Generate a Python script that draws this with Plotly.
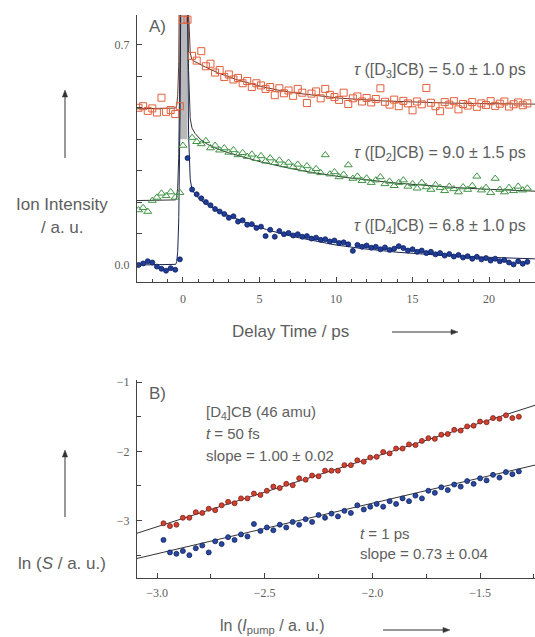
import numpy as np
import plotly.graph_objects as go

# ---------------- Panel A: transient ion signals ----------------
T_PRE = [-2.9, -2.6, -2.3, -2.0, -1.7, -1.4, -1.1, -0.8, -0.5, -0.2]
T_POST_START, T_POST_STEP = 0.6, 0.3

# [D3]CB (red squares)
d3_pre = [0.500, 0.505, 0.490, 0.498, 0.485, 0.532, 0.487, 0.493, 0.480, 0.505]
d3_peak_t = [0.0, 0.3]
d3_peak = [0.78, 0.78]
d3_post = [0.665, 0.650, 0.680, 0.632, 0.640, 0.612, 0.620, 0.598, 0.606, 0.590,
           0.595, 0.578, 0.585, 0.566, 0.578, 0.571, 0.560, 0.566, 0.540, 0.562,
           0.546, 0.555, 0.538, 0.560, 0.548, 0.515, 0.545, 0.552, 0.530, 0.560,
           0.541, 0.534, 0.525, 0.548, 0.512, 0.530, 0.536, 0.520, 0.531, 0.517,
           0.528, 0.562, 0.519, 0.510, 0.526, 0.505, 0.522, 0.514, 0.492, 0.520,
           0.511, 0.563, 0.516, 0.505, 0.489, 0.518, 0.510, 0.521, 0.495, 0.512,
           0.507, 0.518, 0.503, 0.514, 0.509, 0.521, 0.506, 0.513, 0.520, 0.504,
           0.511, 0.517, 0.508, 0.514]

# [D2]CB (green triangles)
d2_pre = [0.175, 0.182, 0.170, 0.205, 0.215, 0.228, 0.220, 0.232, 0.215, 0.230]
d2_peak_t = [0.0]
d2_peak = [0.38]
d2_post = [0.405, 0.392, 0.385, 0.395, 0.372, 0.380, 0.365, 0.372, 0.358, 0.366,
           0.350, 0.357, 0.345, 0.352, 0.338, 0.347, 0.330, 0.340, 0.325, 0.333,
           0.318, 0.326, 0.312, 0.320, 0.305, 0.315, 0.298, 0.306, 0.293, 0.350,
           0.289, 0.296, 0.280, 0.288, 0.318, 0.275, 0.282, 0.268, 0.276, 0.262,
           0.270, 0.280, 0.258, 0.266, 0.252, 0.262, 0.270, 0.250, 0.258, 0.244,
           0.262, 0.248, 0.240, 0.255, 0.246, 0.236, 0.250, 0.242, 0.232, 0.248,
           0.240, 0.252, 0.282, 0.238, 0.246, 0.230, 0.275, 0.240, 0.232, 0.246,
           0.236, 0.250, 0.238, 0.244]

# [D4]CB (blue dots)
d4_pre = [0.000, 0.005, 0.012, 0.008, -0.005, -0.012, -0.018, -0.010, -0.015, 0.018]
d4_peak_t = [0.3]
d4_peak = [0.34]
d4_post = [0.240, 0.225, 0.212, 0.200, 0.190, 0.178, 0.170, 0.162, 0.150, 0.155,
           0.138, 0.142, 0.128, 0.130, 0.118, 0.122, 0.092, 0.112, 0.090, 0.108,
           0.098, 0.102, 0.094, 0.098, 0.090, 0.092, 0.084, 0.087, 0.080, 0.082,
           0.075, 0.078, 0.070, 0.072, 0.066, 0.045, 0.064, 0.058, 0.062, 0.055,
           0.058, 0.050, 0.056, 0.048, 0.052, 0.060, 0.054, 0.046, 0.050, 0.042,
           0.046, 0.038, 0.042, 0.034, 0.038, 0.030, 0.035, 0.027, 0.032, 0.024,
           0.028, 0.020, 0.026, 0.018, 0.022, 0.014, 0.020, 0.012, 0.016, 0.008,
           0.002, 0.012, 0.004, 0.010]

# fit parameters: (baseline before t0, offset, amplitude, tau, fast amplitude, fast tau)
TAU_D3, TAU_D2, TAU_D4 = 5.0, 9.0, 6.8
FIT_D3 = (0.497, 0.51, 0.16, TAU_D3, 0.0, 0.4)
FIT_D2 = (0.205, 0.22, 0.19, TAU_D2, 0.12, 0.5)
FIT_D4 = (0.000, 0.012, 0.225, TAU_D4, 0.12, 0.35)
IRF_CENTER, IRF_WIDTH, IRF_HEIGHT = 0.05, 0.2, 2.0

# ---------------- Panel B: intensity dependence ----------------
ln_pump = [-2.97, -2.94, -2.91, -2.88, -2.85, -2.82, -2.79, -2.76, -2.73, -2.70,
           -2.67, -2.64, -2.61, -2.58, -2.55, -2.52, -2.49, -2.46, -2.43, -2.40,
           -2.37, -2.34, -2.31, -2.28, -2.25, -2.22, -2.19, -2.16, -2.13, -2.10,
           -2.07, -2.04, -2.01, -1.98, -1.95, -1.92, -1.89, -1.86, -1.83, -1.80,
           -1.77, -1.74, -1.71, -1.68, -1.65, -1.62, -1.59, -1.56, -1.53, -1.50,
           -1.47, -1.44, -1.41, -1.38, -1.35, -1.32]
ln_s_50fs = [-3.04, -3.08, -3.06, -2.96, -2.96, -2.88, -2.89, -2.83, -2.85, -2.78,
             -2.73, -2.75, -2.68, -2.68, -2.61, -2.63, -2.57, -2.51, -2.53, -2.47,
             -2.49, -2.39, -2.41, -2.35, -2.36, -2.28, -2.28, -2.28, -2.20, -2.20,
             -2.13, -2.15, -2.09, -2.08, -2.01, -2.03, -1.96, -1.96, -1.90, -1.91,
             -1.85, -1.81, -1.82, -1.76, -1.75, -1.69, -1.70, -1.64, -1.63, -1.57,
             -1.58, -1.52, -1.53, -1.48, -1.52, -1.50]
ln_s_1ps = [-3.28, -3.46, -3.48, -3.44, -3.50, -3.40, -3.36, -3.46, -3.30, -3.34,
            -3.24, -3.28, -3.20, -3.23, -3.05, -3.15, -3.10, -3.14, -3.06, -3.10,
            -3.02, -3.06, -2.98, -3.02, -2.92, -2.96, -2.90, -2.94, -2.86, -2.89,
            -2.78, -2.84, -2.80, -2.76, -2.80, -2.72, -2.76, -2.68, -2.72, -2.64,
            -2.68, -2.57, -2.60, -2.52, -2.56, -2.48, -2.51, -2.43, -2.47, -2.39,
            -2.42, -2.34, -2.38, -2.30, -2.33, -2.29]
SLOPE_50FS, INTERCEPT_50FS = 1.00, -0.09
SLOPE_1PS, INTERCEPT_1PS = 0.73, -1.29

# ---------------- styling ----------------
TXT = "#5e5e5e"
AX = "#444444"
SANS = "Liberation Sans, Arial, sans-serif"
SERIF = "Liberation Serif, Times New Roman, serif"
W, H = 535, 637

RED_A, GREEN_A, BLUE_A = "#e2603c", "#3f9445", "#1f3d99"
RED_B, BLUE_B = "#d2402f", "#2a48a0"

XA_RANGE = [-3.0, 23.0]
YA_RANGE = [-0.054, 0.795]
XB_RANGE = [-3.093, -1.245]
YB_RANGE = [-3.83, -0.97]


def post_times(values):
    return T_POST_START + T_POST_STEP * np.arange(len(values))


def transient(t, base, offset, amp, tau, famp, ftau):
    tp = np.clip(t, 0, None)
    y = np.where(t < 0, base, offset + amp * np.exp(-tp / tau) + famp * np.exp(-tp / ftau))
    return y + IRF_HEIGHT * np.exp(-((t - IRF_CENTER) / IRF_WIDTH) ** 2)


def px_x(px):
    return px / W


def px_y(py):
    return 1 - py / H


fig = go.Figure()

# fit curves (panel A)
t_fit = np.concatenate([np.linspace(XA_RANGE[0], -0.001, 400), np.linspace(0, XA_RANGE[1], 3000)])
for params, col in [(FIT_D3, "#6a3426"), (FIT_D2, "#333333"), (FIT_D4, "#1a2350")]:
    fig.add_trace(go.Scatter(x=t_fit, y=transient(t_fit, *params), mode="lines",
                             line=dict(color=col, width=1), xaxis="x", yaxis="y",
                             showlegend=False, hoverinfo="skip"))

# data points (panel A)
series_a = [
    (d3_pre, d3_peak_t, d3_peak, d3_post, dict(symbol="square-open", size=7, color=RED_A, line=dict(width=1, color=RED_A))),
    (d2_pre, d2_peak_t, d2_peak, d2_post, dict(symbol="triangle-up-open", size=7, color=GREEN_A, line=dict(width=1, color=GREEN_A))),
    (d4_pre, d4_peak_t, d4_peak, d4_post, dict(symbol="circle", size=5, color=BLUE_A, line=dict(width=0.8, color="#0c1f5e"))),
]
for pre, pk_t, pk, post, marker in series_a:
    tx = list(T_PRE) + list(pk_t) + list(post_times(post))
    yy = list(pre) + list(pk) + list(post)
    fig.add_trace(go.Scatter(x=tx, y=yy, mode="markers", marker=marker,
                             xaxis="x", yaxis="y", showlegend=False))

# panel B: fits and data
xb = np.array(XB_RANGE)
for slope, icpt in [(SLOPE_50FS, INTERCEPT_50FS), (SLOPE_1PS, INTERCEPT_1PS)]:
    fig.add_trace(go.Scatter(x=xb, y=slope * xb + icpt, mode="lines",
                             line=dict(color="#333333", width=1), xaxis="x2", yaxis="y2",
                             showlegend=False, hoverinfo="skip"))
fig.add_trace(go.Scatter(x=ln_pump, y=ln_s_50fs, mode="markers",
                         marker=dict(symbol="circle", size=5, color=RED_B, line=dict(width=0.8, color="#7a1f1a")),
                         xaxis="x2", yaxis="y2", showlegend=False))
fig.add_trace(go.Scatter(x=ln_pump, y=ln_s_1ps, mode="markers",
                         marker=dict(symbol="circle", size=5, color=BLUE_B, line=dict(width=0.8, color="#10235e")),
                         xaxis="x2", yaxis="y2", showlegend=False))

tick_font = dict(family=SERIF, size=12, color=TXT)
common = dict(showgrid=False, zeroline=False, showline=True, linecolor=AX, linewidth=1,
              ticks="inside", tickcolor=AX, tickfont=tick_font, mirror=False, automargin=False)

shapes = [dict(type="rect", xref="x", yref="y", x0=-0.2, x1=0.3, y0=0.40, y1=YA_RANGE[1],
               fillcolor="#b9b9b9", line=dict(width=0), layer="below")]


def arrow(x0, y0, x1, y1, head=7, half=2.6):
    """Arrow from (x0,y0) to (x1,y1) in pixel coordinates, drawn as shapes."""
    dx, dy = x1 - x0, y1 - y0
    n = (dx ** 2 + dy ** 2) ** 0.5
    ux, uy = dx / n, dy / n
    bx, by = x1 - ux * head, y1 - uy * head
    shapes.append(dict(type="line", xref="paper", yref="paper",
                       x0=px_x(x0), y0=px_y(y0), x1=px_x(bx), y1=px_y(by),
                       line=dict(color="#333333", width=1)))
    pts = [(x1, y1), (bx - uy * half, by + ux * half), (bx + uy * half, by - ux * half)]
    path = "M " + " L ".join(f"{px_x(a):.5f},{px_y(b):.5f}" for a, b in pts) + " Z"
    shapes.append(dict(type="path", xref="paper", yref="paper", path=path,
                       fillcolor="#333333", line=dict(color="#333333", width=0.5)))


arrow(65, 158, 65, 90)
arrow(392, 332, 458, 332)
arrow(65, 517, 65, 450)
arrow(383, 630, 450, 630)

fig.update_layout(
    width=W, height=H,
    margin=dict(l=0, r=0, t=0, b=0),
    paper_bgcolor="white", plot_bgcolor="white",
    xaxis=dict(domain=[px_x(137), 1], range=XA_RANGE, anchor="y",
               tickvals=[0, 5, 10, 15, 20], ticklen=5, ticklabelstandoff=6,
               minor=dict(dtick=1, tick0=0, ticks="inside", ticklen=3, tickcolor=AX), **common),
    yaxis=dict(domain=[px_y(282), px_y(15)], range=YA_RANGE, anchor="x",
               tickvals=[0.0, 0.7], ticktext=["0.0", "0.7"], ticklen=5, ticklabelstandoff=4,
               minor=dict(dtick=0.1, tick0=0, ticks="inside", ticklen=5, tickcolor=AX), **common),
    xaxis2=dict(domain=[px_x(137), 1], range=XB_RANGE, anchor="y2",
                tick0=-3.0, dtick=0.5, tickformat=".1f", ticklen=5, ticklabelstandoff=4,
                minor=dict(dtick=0.25, tick0=-3.0, ticks="inside", ticklen=4, tickcolor=AX), **common),
    yaxis2=dict(domain=[px_y(578), px_y(380)], range=YB_RANGE, anchor="x2",
                tickvals=[-3, -2, -1], ticklen=5, ticklabelstandoff=4,
                minor=dict(dtick=0.5, tick0=-1, ticks="inside", ticklen=4, tickcolor=AX), **common),
    shapes=shapes,
)


def label(text, x, y, anchor="left", size=16, font=SANS):
    fig.add_annotation(text=text, x=px_x(x), y=px_y(y), xref="paper", yref="paper",
                       xanchor=anchor, yanchor="middle", showarrow=False,
                       font=dict(family=font, size=size, color=TXT))


tau = "<i>τ</i>"
label("A)", 147, 27, size=17)
label(f"{tau} ([D<sub>3</sub>]CB) = {TAU_D3:.1f} ± 1.0 ps", 528, 71, anchor="right")
label(f"{tau} ([D<sub>2</sub>]CB) = {TAU_D2:.1f} ± 1.5 ps", 528, 153, anchor="right")
label(f"{tau} ([D<sub>4</sub>]CB) = {TAU_D4:.1f} ± 1.0 ps", 528, 226, anchor="right")
label("Ion Intensity", 62, 204, anchor="center", size=17)
label("/ a. u.", 62, 227, anchor="center", size=17)
label("Delay Time / ps", 290, 331, anchor="center", size=17)

label("B)", 147, 393, size=17)
label("[D<sub>4</sub>]CB (46 amu)", 204, 412, size=15)
label("<i>t</i> = 50 fs", 204, 433, size=15)
label(f"slope = {SLOPE_50FS:.2f} ± 0.02", 204, 455, size=15)
label("<i>t</i> = 1 ps", 358, 533, size=15)
label(f"slope = {SLOPE_1PS:.2f} ± 0.04", 358, 553, size=15)
label("ln (<i>S</i> / a. u.)", 62, 563, anchor="center", size=17)
label("ln (<i>I</i><sub>pump</sub> / a. u.)", 272, 626, anchor="center", size=16)

fig.write_html("out.html")
